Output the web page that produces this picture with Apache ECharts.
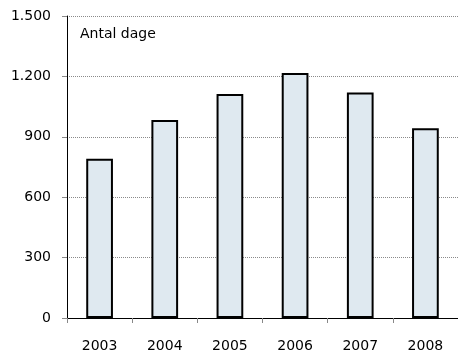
<!DOCTYPE html>
<html><head><meta charset="utf-8">
<script src="https://cdn.jsdelivr.net/npm/echarts@6/dist/echarts.min.js"></script>
<style>html,body{margin:0;padding:0;background:#fff}#c{width:458px;height:353px}</style>
</head><body><div id="c"></div>
<script>
var categories = ['2003','2004','2005','2006','2007','2008'];
var values = [791, 984, 1113, 1217, 1120, 942];
var yTicks = [0, 300, 600, 900, 1200, 1500];
var titleText = 'Antal dage';

var font = 'DejaVu Sans';
var chart = echarts.init(document.getElementById('c'), null, {renderer:'canvas'});
chart.setOption({
  animation:false,
  textStyle:{fontFamily:font},
  title:{text:titleText,left:75,top:22,padding:5,textStyle:{fontFamily:font,fontSize:14,fontWeight:'normal',color:'#000'}},
  grid:{left:67,top:16,right:0,bottom:34,containLabel:false},
  xAxis:{type:'category',data:categories,
    axisLine:{lineStyle:{color:'#000',width:1}},
    axisTick:{show:true,length:5,lineStyle:{color:'#888'}},
    axisLabel:{color:'#000',fontFamily:font,fontSize:14,margin:21}},
  yAxis:{type:'value',min:yTicks[0],max:yTicks[yTicks.length-1],interval:300,
    axisLine:{show:true,lineStyle:{color:'#000',width:1}},
    axisTick:{show:true,length:5,lineStyle:{color:'#888'}},
    splitLine:{show:true,lineStyle:{color:'#8a8a8a',type:[1,1],width:1}},
    axisLabel:{color:'#000',fontFamily:font,fontSize:14,margin:16,
      formatter:function(v){return String(v).replace(/\B(?=(\d{3})+(?!\d))/g,'.');}}},
  series:[{type:'bar',data:values,barWidth:'41%',
    itemStyle:{color:'#dfe9f0',borderColor:'#000',borderWidth:2}}]
});
</script></body></html>
